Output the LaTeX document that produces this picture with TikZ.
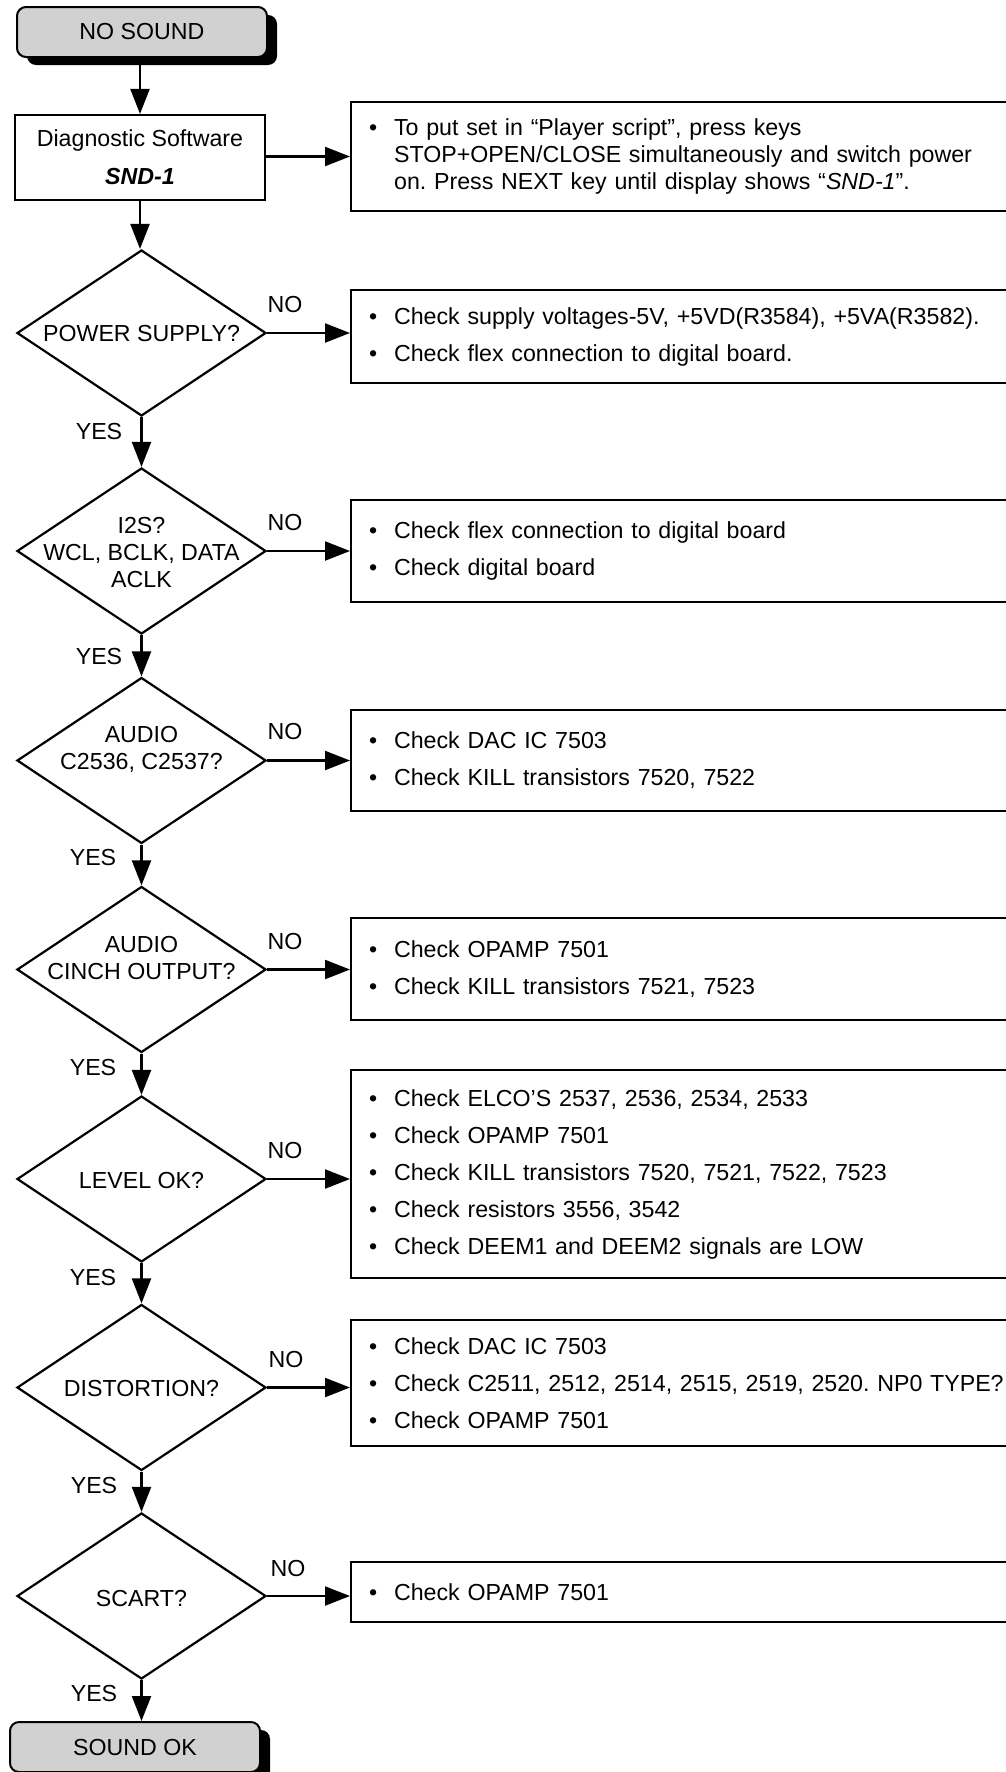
\documentclass[tikz,border=0pt]{standalone}
\usepackage{fontspec}
\setmainfont{Liberation Sans}
\usetikzlibrary{shapes.geometric,arrows.meta,shadows}
\newcommand{\bl}{\makebox[25pt][l]{\textbullet}}
\newcommand{\ind}{\hspace*{25pt}}
\frenchspacing
\begin{document}
\begin{tikzpicture}[x=1pt,y=-1pt,
  every node/.style={font=\fontsize{23.2}{27}\selectfont},
  arr/.style={line width=2.2pt,-{Triangle[length=25pt,width=19pt]}},
  term/.style={draw,line width=2pt,rounded corners=9pt,fill=black!18,
    minimum width=250pt,minimum height=50pt,inner sep=0pt,
    drop shadow={shadow xshift=10pt,shadow yshift=-8pt,fill=black,opacity=1}},
  procbox/.style={draw,line width=2.2pt,minimum width=250pt,minimum height=85pt,align=center,inner sep=0pt},
  dia/.style={draw,diamond,line width=2.2pt,minimum width=249pt,minimum height=166pt,inner sep=0pt},
  diatext/.style={align=center,inner sep=0pt},
  note/.style={draw,line width=2.2pt,anchor=west,minimum width=680pt,text width=644pt,
    inner xsep=18pt,inner ysep=0pt,align=left},
  lbl/.style={inner sep=0pt}
]
\useasboundingbox (0,0) rectangle (1006,1772);
\clip (0,0) rectangle (1006,1772);
\fill[white] (0,0) rectangle (1006,1772);

% start
\node[term] (start) at (142,32) {NO SOUND};
\node[procbox] (b1) at (140,157.5) {Diagnostic Software\\[11pt]\textbf{\textit{SND-1}}};
\node[note,minimum height=109pt] (r1) at (350,156.5) {\bl To put set in “Player script”, press keys\\
\ind STOP+OPEN/CLOSE simultaneously and switch power\\
\ind on. Press NEXT key until display shows “\textit{SND-1}”.};

% diamonds
\node[dia] (d1) at (141.5,333) {};
\node[diatext] (d1t) at (141.5,334) {POWER SUPPLY?};
\node[dia] (d2) at (141.5,551) {};
\node[diatext] (d2t) at (141.5,553) {I2S?\\WCL, BCLK, DATA\\ACLK};
\node[dia] (d3) at (141.5,760.5) {};
\node[diatext] (d3t) at (141.5,749) {AUDIO\\C2536, C2537?};
\node[dia] (d4) at (141.5,969.5) {};
\node[diatext] (d4t) at (141.5,958) {AUDIO\\CINCH OUTPUT?};
\node[dia] (d5) at (141.5,1179) {};
\node[diatext] (d5t) at (141.5,1180) {LEVEL OK?};
\node[dia] (d6) at (141.5,1387.5) {};
\node[diatext] (d6t) at (141.5,1388) {DISTORTION?};
\node[dia] (d7) at (141.5,1596) {};
\node[diatext] (d7t) at (141.5,1598) {SCART?};

\node[term] (end) at (135,1747) {SOUND OK};

% notes
\node[note,minimum height=93pt] (r2) at (350,336.5) {\bl Check supply voltages-5V, +5VD(R3584), +5VA(R3582).\\[10pt]
\bl Check flex connection to digital board.};
\node[note,minimum height=102pt] (r3) at (350,551) {\bl Check flex connection to digital board\\[10pt]
\bl Check digital board};
\node[note,minimum height=101pt] (r4) at (350,760.5) {\bl Check DAC IC 7503\\[10pt]
\bl Check KILL transistors 7520, 7522};
\node[note,minimum height=102pt] (r5) at (350,969) {\bl Check OPAMP 7501\\[10pt]
\bl Check KILL transistors 7521, 7523};
\node[note,minimum height=208pt] (r6) at (350,1174) {\bl Check ELCO’S 2537, 2536, 2534, 2533\\[10pt]
\bl Check OPAMP 7501\\[10pt]
\bl Check KILL transistors 7520, 7521, 7522, 7523\\[10pt]
\bl Check resistors 3556, 3542\\[10pt]
\bl Check DEEM1 and DEEM2 signals are LOW};
\node[note,minimum height=126pt] (r7) at (350,1383) {\bl Check DAC IC 7503\\[10pt]
\bl Check C2511, 2512, 2514, 2515, 2519, 2520. NP0 TYPE?\\[10pt]
\bl Check OPAMP 7501};
\node[note,minimum height=60pt] (r8) at (350,1592) {\bl Check OPAMP 7501};

% vertical connectors
\draw[arr] (start.south -| b1.north) -- (b1.north);
\draw[arr] (b1.south) -- (b1.south |- d1.north);
\draw[arr] (d1.south) -- (d2.north);
\draw[arr] (d2.south) -- (d3.north);
\draw[arr] (d3.south) -- (d4.north);
\draw[arr] (d4.south) -- (d5.north);
\draw[arr] (d5.south) -- (d6.north);
\draw[arr] (d6.south) -- (d7.north);
\draw[arr] (d7.south) -- (d7.south |- end.north);

% horizontal connectors
\draw[arr] (b1.east |- r1.west) -- (r1.west);
\draw[arr] (d1.east) -- (d1.east -| r2.west);
\draw[arr] (d2.east) -- (d2.east -| r3.west);
\draw[arr] (d3.east) -- (d3.east -| r4.west);
\draw[arr] (d4.east) -- (d4.east -| r5.west);
\draw[arr] (d5.east) -- (d5.east -| r6.west);
\draw[arr] (d6.east) -- (d6.east -| r7.west);
\draw[arr] (d7.east) -- (d7.east -| r8.west);

% labels
\node[lbl] (n1) at (285,305) {NO};
\node[lbl] (n2) at (285,523) {NO};
\node[lbl] (n3) at (285,732) {NO};
\node[lbl] (n4) at (285,942) {NO};
\node[lbl] (n5) at (285,1150) {NO};
\node[lbl] (n6) at (286,1359) {NO};
\node[lbl] (n7) at (288,1568) {NO};
\node[lbl] (y1) at (99,432) {YES};
\node[lbl] (y2) at (99,657) {YES};
\node[lbl] (y3) at (93,858) {YES};
\node[lbl] (y4) at (93,1067) {YES};
\node[lbl] (y5) at (93,1277) {YES};
\node[lbl] (y6) at (94,1485) {YES};
\node[lbl] (y7) at (94,1693) {YES};
\end{tikzpicture}
\end{document}
